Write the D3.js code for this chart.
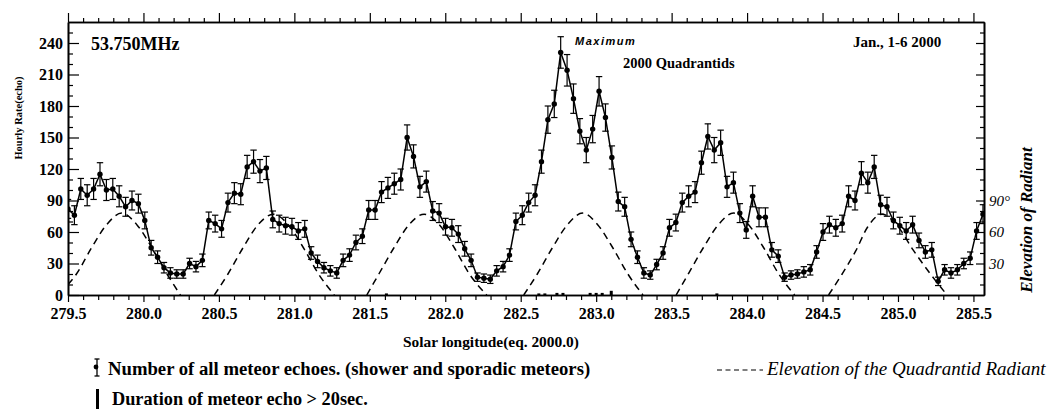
<!DOCTYPE html>
<meta charset="utf-8">
<style>
body { margin: 0; background: #fff; }
svg { display: block; font-family: "Liberation Serif", "Times New Roman", serif; }
.b { font-weight: bold; }
</style>
<svg width="1059" height="409"></svg>
<script src="https://cdn.jsdelivr.net/npm/d3@7"></script>
<script>

// hourly radar counts, first hour at solar longitude 279.5, one per hour
var lonStart = 279.5;
var lonStep = 0.0424;
var hourlyRate = [
  82, 76, 101, 95, 101, 115, 100, 101, 94, 84, 90, 87, 71, 45, 36, 26, 21, 20, 20, 30,
  27, 33, 71, 68, 63, 88, 97, 96, 122, 127, 118, 121, 72, 68, 66, 65, 61, 63, 40, 32,
  26, 23, 21, 33, 38, 50, 56, 81, 81, 98, 102, 106, 110, 150, 132, 103, 108, 80, 78, 65,
  64, 58, 44, 33, 17, 16, 15, 23, 27, 38, 70, 76, 88, 95, 127, 167, 182, 231, 214, 187,
  156, 138, 158, 194, 169, 131, 89, 84, 53, 36, 21, 19, 29, 40, 64, 69, 88, 94, 98, 126,
  151, 138, 145, 103, 107, 78, 62, 94, 74, 74, 43, 37, 17, 19, 20, 22, 24, 41, 60, 67,
  64, 68, 94, 90, 116, 107, 122, 86, 84, 71, 66, 61, 67, 52, 41, 43, 13, 24, 21, 24,
  30, 35, 61, 77
];
var rateErr = [
  9, 9, 10, 10, 10, 11, 10, 10, 10, 9, 9, 9, 8, 7, 6, 5, 5, 4, 4, 5,
  5, 6, 8, 8, 8, 9, 10, 10, 11, 11, 11, 11, 8, 8, 8, 8, 8, 8, 6, 6,
  5, 5, 5, 6, 6, 7, 7, 9, 9, 10, 10, 10, 10, 12, 11, 10, 10, 9, 9, 8,
  8, 8, 7, 6, 4, 4, 4, 5, 5, 6, 8, 9, 9, 10, 11, 13, 13, 15, 15, 14,
  12, 12, 13, 14, 13, 11, 9, 9, 7, 6, 5, 4, 5, 6, 8, 8, 9, 10, 10, 11,
  12, 12, 12, 10, 10, 9, 8, 10, 9, 9, 7, 6, 4, 4, 4, 5, 5, 6, 8, 8,
  8, 8, 10, 9, 11, 10, 11, 9, 9, 8, 8, 8, 8, 7, 6, 7, 4, 5, 5, 5,
  5, 6, 8, 9
];

// radiant elevation (deg), one list per day
var elevCycles = [
  [[279.5, 10], [279.556, 20], [279.656, 45], [279.756, 67], [279.856, 78], [279.956, 67], [280.056, 45], [280.156, 20], [280.245, 0]],
  [[280.47, 0], [280.56, 20], [280.66, 45], [280.76, 67], [280.86, 77], [280.96, 67], [281.06, 45], [281.16, 20], [281.265, 0]],
  [[281.48, 0], [281.56, 20], [281.66, 45], [281.76, 67], [281.86, 77], [281.96, 67], [282.06, 45], [282.16, 20], [282.275, 0]],
  [[282.52, 0], [282.61, 20], [282.71, 45], [282.81, 67], [282.91, 78], [283.01, 67], [283.11, 45], [283.21, 20], [283.31, 0]],
  [[283.53, 0], [283.61, 20], [283.71, 45], [283.81, 67], [283.91, 78], [284.01, 67], [284.11, 45], [284.21, 20], [284.315, 0]],
  [[284.54, 0], [284.63, 20], [284.72, 42], [284.80, 65], [284.895, 77], [284.99, 67], [285.10, 43], [285.21, 21], [285.325, 0]]
];

// echoes lasting more than 20 s
var longLon = [281.61, 282.62, 282.66, 282.74, 282.78, 282.96, 283.0, 283.04, 283.1, 283.8];
var longCount = [1.5, 1.5, 1.5, 2, 2, 2, 2, 2, 4, 1.5];

var xMajor = [279.5, 280.0, 280.5, 281.0, 281.5, 282.0, 282.5, 283.0, 283.5, 284.0, 284.5, 285.0, 285.5];
var yMajor = [0, 30, 60, 90, 120, 150, 180, 210, 240];
var elevLabels = [30, 60, 90];

var svg = d3.select("svg");
var pLeft = 68, pRight = 984, pTop = 22, pBottom = 295;

var x = d3.scaleLinear().domain([279.5, 285.57]).range([pLeft, pRight]);
var y = d3.scaleLinear().domain([0, 260]).range([pBottom, pTop]);

var rows = hourlyRate.map(function(v, i) {
  return { lon: lonStart + i * lonStep, v: v, e: rateErr[i] };
});

var xMinor = d3.range(279.6, 285.55, 0.1).filter(function(t) {
  return Math.abs(t * 2 - Math.round(t * 2)) > 0.01;
});
var yMinor = d3.range(10, 260, 10).filter(function(t) { return t % 30 != 0; });

function styleAxis(g) {
  g.selectAll("path").attr("stroke", "#000").attr("stroke-width", 1.6);
  g.selectAll("line").attr("stroke", "#000").attr("stroke-width", 1.2);
}

// bottom axis
svg.append("g").attr("transform", "translate(0," + pBottom + ")")
  .call(d3.axisBottom(x).tickValues(xMinor).tickSize(5).tickSizeOuter(0).tickFormat(""))
  .call(styleAxis);
svg.append("g").attr("transform", "translate(0," + pBottom + ")")
  .call(d3.axisBottom(x).tickValues(xMajor).tickSize(7).tickSizeOuter(0).tickPadding(6).tickFormat(d3.format(".1f")))
  .call(styleAxis)
  .call(function(g) {
    g.selectAll("text").attr("class", "b").attr("font-size", 16).attr("fill", "#000");
  });

// top axis
svg.append("g").attr("transform", "translate(0," + pTop + ")")
  .call(d3.axisTop(x).tickValues(xMinor).tickSize(4).tickSizeOuter(0).tickFormat(""))
  .call(styleAxis);
svg.append("g").attr("transform", "translate(0," + pTop + ")")
  .call(d3.axisTop(x).tickValues(xMajor).tickSize(9).tickSizeOuter(0).tickFormat(""))
  .call(styleAxis);

// left axis
svg.append("g").attr("transform", "translate(" + pLeft + ",0)")
  .call(d3.axisLeft(y).tickValues(yMinor).tickSize(-5).tickSizeOuter(0).tickFormat(""))
  .call(styleAxis);
svg.append("g").attr("transform", "translate(" + pLeft + ",0)")
  .call(d3.axisLeft(y).tickValues(yMajor).tickSize(-11).tickSizeOuter(0).tickPadding(5))
  .call(styleAxis)
  .call(function(g) {
    g.selectAll("text").attr("class", "b").attr("font-size", 16).attr("fill", "#000");
  });

// right axis (elevation, same scale)
svg.append("g").attr("transform", "translate(" + pRight + ",0)")
  .call(d3.axisRight(y).tickValues(yMinor).tickSize(-4).tickSizeOuter(0).tickFormat(""))
  .call(styleAxis);
svg.append("g").attr("transform", "translate(" + pRight + ",0)")
  .call(d3.axisRight(y).tickValues(yMajor.slice(1)).tickSize(-8).tickSizeOuter(0).tickFormat(""))
  .call(styleAxis);
svg.append("g").attr("transform", "translate(" + pRight + ",0)")
  .call(d3.axisRight(y).tickValues(elevLabels).tickSize(0).tickSizeOuter(0).tickPadding(5)
    .tickFormat(function(d) { return d == 90 ? "90\u00b0" : d; }))
  .call(function(g) {
    g.select("path").remove();
    g.selectAll("text").attr("font-size", 15).attr("font-style", "italic").attr("fill", "#000");
  });

svg.selectAll("g").attr("font-family", null);

// plot clip
svg.append("clipPath").attr("id", "plot")
  .append("rect").attr("x", pLeft).attr("y", pTop).attr("width", pRight - pLeft).attr("height", pBottom - pTop);

var area = svg.append("g").attr("clip-path", "url(#plot)");

// dashed elevation curves
var elevLine = d3.line()
  .x(function(d) { return x(d[0]); })
  .y(function(d) { return y(d[1]); })
  .curve(d3.curveMonotoneX);
area.selectAll(".elev").data(elevCycles).enter().append("path")
  .attr("d", elevLine)
  .attr("fill", "none").attr("stroke", "#000").attr("stroke-width", 1.5)
  .attr("stroke-dasharray", "7,5");

// long-duration echoes
area.selectAll(".long").data(longLon).enter().append("rect")
  .attr("x", function(d) { return x(d) - 1.5; })
  .attr("width", 3)
  .attr("y", function(d, i) { return y(longCount[i]); })
  .attr("height", function(d, i) { return y(0) - y(longCount[i]); })
  .attr("fill", "#000");

// rate line
area.append("path").datum(rows)
  .attr("d", d3.line().x(function(d) { return x(d.lon); }).y(function(d) { return y(d.v); }))
  .attr("fill", "none").attr("stroke", "#000").attr("stroke-width", 1.5);

// error bars
var eb = area.selectAll(".eb").data(rows).enter().append("g")
  .attr("stroke", "#000").attr("stroke-width", 1.2);
eb.append("line")
  .attr("x1", function(d) { return x(d.lon); }).attr("x2", function(d) { return x(d.lon); })
  .attr("y1", function(d) { return y(d.v - d.e); }).attr("y2", function(d) { return y(d.v + d.e); });
eb.append("line")
  .attr("x1", function(d) { return x(d.lon) - 3.2; }).attr("x2", function(d) { return x(d.lon) + 3.2; })
  .attr("y1", function(d) { return y(d.v + d.e); }).attr("y2", function(d) { return y(d.v + d.e); });
eb.append("line")
  .attr("x1", function(d) { return x(d.lon) - 3.2; }).attr("x2", function(d) { return x(d.lon) + 3.2; })
  .attr("y1", function(d) { return y(d.v - d.e); }).attr("y2", function(d) { return y(d.v - d.e); });

area.selectAll(".dot").data(rows).enter().append("circle")
  .attr("cx", function(d) { return x(d.lon); })
  .attr("cy", function(d) { return y(d.v); })
  .attr("r", 2.7).attr("fill", "#000");

// texts
svg.append("text").attr("class", "b").attr("x", 91).attr("y", 50).attr("font-size", 18).text("53.750MHz");
svg.append("text").attr("x", 575).attr("y", 45).attr("font-size", 11)
  .attr("font-family", "'Liberation Sans', Arial, sans-serif").attr("font-weight", "bold")
  .attr("font-style", "italic").attr("letter-spacing", 1.5).text("Maximum");
svg.append("text").attr("class", "b").attr("x", 623).attr("y", 68).attr("font-size", 14.5).text("2000 Quadrantids");
svg.append("text").attr("class", "b").attr("x", 853).attr("y", 47).attr("font-size", 15).text("Jan., 1-6 2000");

svg.append("text").attr("class", "b").attr("font-size", 10.5).attr("text-anchor", "middle")
  .attr("transform", "translate(22,118) rotate(-90)").text("Hourly Rate(echo)");
svg.append("text").attr("class", "b").attr("font-size", 17).attr("font-style", "italic")
  .attr("text-anchor", "middle")
  .attr("transform", "translate(1032,220) rotate(-90)").text("Elevation of Radiant");
svg.append("text").attr("class", "b").attr("font-size", 15.4).attr("x", 403).attr("y", 347)
  .text("Solar longitude(eq. 2000.0)");

// legend
var lg = svg.append("g").attr("stroke", "#000").attr("stroke-width", 1.3);
lg.append("line").attr("x1", 97).attr("x2", 97).attr("y1", 359).attr("y2", 376);
lg.append("line").attr("x1", 94.5).attr("x2", 99.5).attr("y1", 359).attr("y2", 359);
lg.append("line").attr("x1", 94.5).attr("x2", 99.5).attr("y1", 376).attr("y2", 376);
svg.append("circle").attr("cx", 96).attr("cy", 367).attr("r", 2.4).attr("fill", "#000");
svg.append("rect").attr("x", 96).attr("y", 389).attr("width", 3).attr("height", 20).attr("fill", "#000");
lg.append("line").attr("x1", 717).attr("x2", 763).attr("y1", 370).attr("y2", 370)
  .attr("stroke-dasharray", "5,3.5").attr("stroke-width", 1.2);

svg.append("text").attr("class", "b").attr("font-size", 18.7).attr("x", 108).attr("y", 375)
  .text("Number of all meteor echoes. (shower and sporadic meteors)");
svg.append("text").attr("class", "b").attr("font-size", 18.3).attr("x", 112).attr("y", 405)
  .text("Duration of meteor echo > 20sec.");
svg.append("text").attr("font-size", 19).attr("font-style", "italic").attr("x", 767).attr("y", 375)
  .text("Elevation of the Quadrantid Radiant");

</script>
